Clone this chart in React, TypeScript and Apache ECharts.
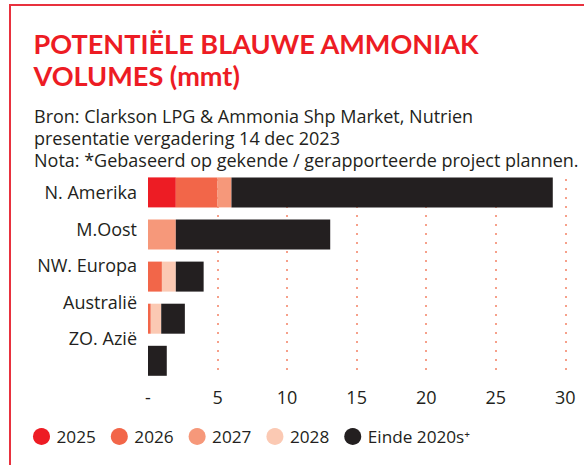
import React, { useEffect, useRef } from "react";
import * as echarts from "echarts";

const categories = ["N. Amerika", "M.Oost", "NW. Europa", "Australië", "ZO. Azië"];
const seriesNames = ["2025", "2026", "2027", "2028", "Einde 2020s⁺"];
const v2025 = [2.0, null, null, null, null];
const v2026 = [3.0, null, 1.0, 0.2, null];
const v2027 = [1.0, 2.0, null, null, null];
const v2028 = [null, null, 1.0, 0.75, null];
const vEinde = [23.1, 11.1, 2.0, 1.7, 1.35];
const colors = ["#ed1c24", "#f26649", "#f6987a", "#fbc9b3", "#231f20"];
const xTicks = { min: 0, max: 30, interval: 5 };

const titleText = "POTENTIËLE BLAUWE AMMONIAK\nVOLUMES (mmt)";
const subText =
  "Bron: Clarkson LPG & Ammonia Shp Market, Nutrien\npresentatie vergadering 14 dec 2023\nNota: *Gebaseerd op gekende / gerapporteerde project plannen.";

const TXT = "#231f20";
const FONT = "'Open Sans', 'Noto Sans', sans-serif";
const FS = 18;

export default function App() {
  const ref = useRef<HTMLDivElement>(null);
  useEffect(() => {
    if (!ref.current) return;
    const chart = echarts.init(ref.current, undefined, { renderer: "svg" });
    const values = [v2025, v2026, v2027, v2028, vEinde];
    chart.setOption({
      animation: false,
      backgroundColor: "#ffffff",
      textStyle: { fontFamily: FONT },
      title: [
        {
          text: titleText,
          left: 33.5,
          top: 28,
          padding: 0,
          textStyle: {
            color: "#ed1c24",
            fontFamily: "Lato, 'Open Sans', sans-serif",
            fontWeight: "bold",
            fontSize: 27.1,
            lineHeight: 31.7,
          },
        },
        {
          text: subText,
          left: 34,
          top: 104.5,
          padding: 0,
          textStyle: {
            color: TXT,
            fontFamily: FONT,
            fontWeight: "normal",
            fontSize: FS,
            lineHeight: 22,
          },
        },
      ],
      graphic: [
        {
          type: "line",
          shape: { x1: 9, y1: 5, x2: 584, y2: 5 },
          style: { stroke: "#e8313e", lineWidth: 2 },
        },
        {
          type: "line",
          shape: { x1: 10, y1: 4, x2: 10, y2: 465 },
          style: { stroke: "#e8313e", lineWidth: 2 },
        },
      ],
      legend: {
        data: seriesNames,
        left: 33,
        top: 428,
        icon: "circle",
        itemWidth: 17,
        itemHeight: 17,
        itemGap: 15,
        padding: 0,
        textStyle: { color: TXT, fontSize: 17.2, fontFamily: FONT, padding: [0, 0, 0, 1.5] },
      },
      grid: [
        { left: 148, right: 18.7, top: 171.35, height: 210.5 },
        { left: 148, right: 18.7, top: 173.75, height: 182.5 },
        { left: 148, right: 18.7, top: 179, bottom: 90 },
      ],
      xAxis: [
        { gridIndex: 0, type: "value", ...xTicks, show: false },
        { gridIndex: 1, type: "value", min: 0, max: 1, show: false },
        {
          gridIndex: 2,
          type: "value",
          ...xTicks,
          axisLine: { show: false },
          axisTick: { show: false },
          axisLabel: {
            margin: 12.7,
            color: TXT,
            fontSize: FS,
            lineHeight: 18,
            fontFamily: FONT,
            formatter: (v: number) => (v === 0 ? "-" : String(v)),
          },
          splitLine: {
            show: true,
            showMinLine: false,
            lineStyle: { color: "#f6a08a", width: 2, type: [2, 7] },
          },
        },
      ],
      yAxis: [
        { gridIndex: 0, type: "category", data: categories, inverse: true, show: false },
        {
          gridIndex: 1,
          type: "category",
          data: categories,
          inverse: true,
          axisLine: { show: false },
          axisTick: { show: false },
          axisLabel: { margin: 11, color: TXT, fontSize: FS, fontFamily: FONT },
        },
        { gridIndex: 2, type: "value", min: 0, max: 1, show: false },
      ],
      series: seriesNames.map((name, i) => ({
        name,
        type: "bar",
        stack: "total",
        xAxisIndex: 0,
        yAxisIndex: 0,
        barWidth: 30,
        data: values[i],
        itemStyle: { color: colors[i] },
      })),
    });
    return () => chart.dispose();
  }, []);
  return (
    <div style={{ position: "fixed", left: 0, top: 0, width: 584, height: 465, background: "#fff" }}>
      <div ref={ref} style={{ width: 584, height: 465 }} />
    </div>
  );
}
